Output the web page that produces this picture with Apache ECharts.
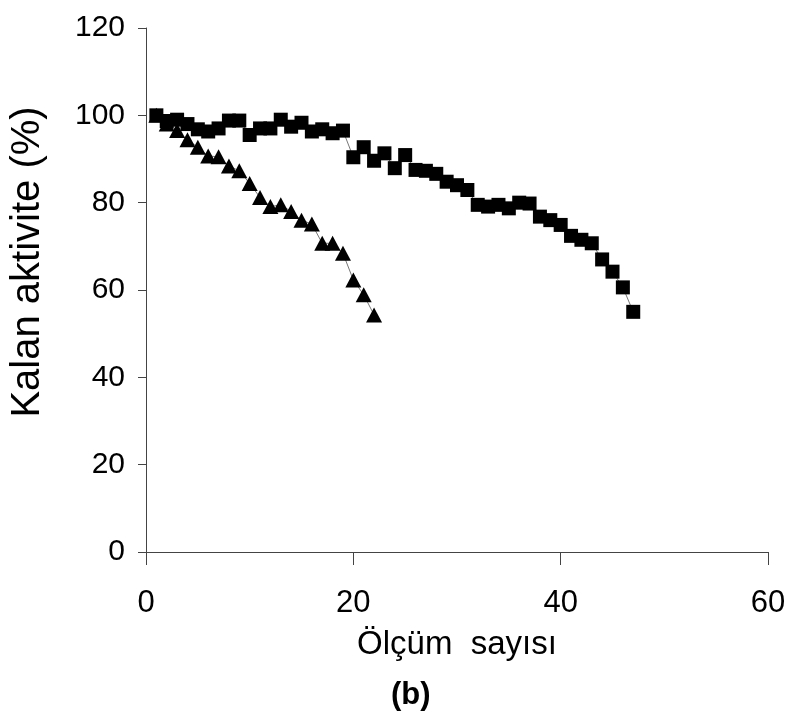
<!DOCTYPE html>
<html>
<head>
    <meta charset="UTF-8">
    <title>Kalan aktivite</title>
    <script src="https://cdn.jsdelivr.net/npm/echarts@6/dist/echarts.min.js"></script>
</head>
<body style="margin:0; background:#fff;">
<div id="main" style="width:792px; height:727px;"></div>
<script type="text/javascript">
    // ölçüm numaraları ve kalan aktivite değerleri
    var squareX = [1, 2, 3, 4, 5, 6, 7, 8, 9, 10, 11, 12, 13, 14, 15, 16, 17, 18, 19, 20,
        21, 22, 23, 24, 25, 26, 27, 28, 29, 30, 31, 32, 33, 34, 35, 36, 37, 38, 39, 40,
        41, 42, 43, 44, 45, 46, 47];
    var squareY = [100, 98.7, 99, 98, 96.8, 96.3, 97, 98.8, 98.8, 95.5, 97, 97, 99, 97.4, 98.3, 96.3, 96.8, 95.9, 96.5, 90.4,
        92.7, 89.6, 91.3, 87.9, 90.9, 87.5, 87.3, 86.6, 84.8, 84, 82.9, 79.5, 79.1, 79.5, 78.7, 80, 79.8, 76.8, 76, 74.9,
        72.4, 71.5, 70.7, 67, 64.2, 60.6, 55];
    var triX = [1, 2, 3, 4, 5, 6, 7, 8, 9, 10, 11, 12, 13, 14, 15, 16, 17, 18, 19, 20, 21, 22];
    var triY = [100, 98, 96.5, 94.4, 92.7, 90.7, 90.5, 88.4, 87.3, 84.4, 81.2, 79.1, 79.5, 78, 76, 75.1, 70.7, 70.7, 68.4, 62.3, 58.9, 54.3];

    var font = 'Liberation Sans, Arial, sans-serif';

    function pairs(xs, ys) {
        var out = [];
        for (var i = 0; i < xs.length; i++) {
            out.push([xs[i], ys[i]]);
        }
        return out;
    }

    var myChart = echarts.init(document.getElementById('main'));
    var option = {
        animation: false,
        backgroundColor: '#fff',
        grid: {left: 140, right: 24, top: 28, bottom: 175},
        graphic: [{
            type: 'text',
            left: 391,
            top: 680,
            style: {text: '(b)', font: 'bold 31px ' + font, fill: '#000'}
        }],
        xAxis: {
            type: 'value',
            min: 0,
            max: 60,
            interval: 20,
            name: 'Ölçüm  sayısı',
            nameLocation: 'middle',
            nameGap: 76,
            nameTextStyle: {fontFamily: font, fontSize: 33, color: '#000'},
            axisLine: {lineStyle: {color: '#444', width: 1}},
            axisTick: {length: 13, lineStyle: {color: '#444'}},
            axisLabel: {margin: 36, fontFamily: font, fontSize: 31, color: '#000'},
            splitLine: {show: false}
        },
        yAxis: {
            type: 'value',
            min: 0,
            max: 120,
            interval: 20,
            name: 'Kalan aktivite (%)',
            nameLocation: 'middle',
            nameGap: 98,
            nameTextStyle: {fontFamily: font, fontSize: 40, color: '#000', padding: [0, 0, 0, 56]},
            axisLine: {show: true, lineStyle: {color: '#444', width: 1}},
            axisTick: {show: true, length: 8, lineStyle: {color: '#444'}},
            axisLabel: {margin: 21, fontFamily: font, fontSize: 30, color: '#000'},
            splitLine: {show: false}
        },
        series: [
            {
                type: 'line',
                data: pairs(triX, triY),
                symbol: 'triangle',
                symbolSize: [16, 15],
                itemStyle: {color: '#000'},
                lineStyle: {color: '#777', width: 1}
            },
            {
                type: 'line',
                data: pairs(squareX, squareY),
                symbol: 'rect',
                symbolSize: 14,
                itemStyle: {color: '#000'},
                lineStyle: {color: '#777', width: 1}
            }
        ]
    };
    myChart.setOption(option);
</script>
</body>
</html>
